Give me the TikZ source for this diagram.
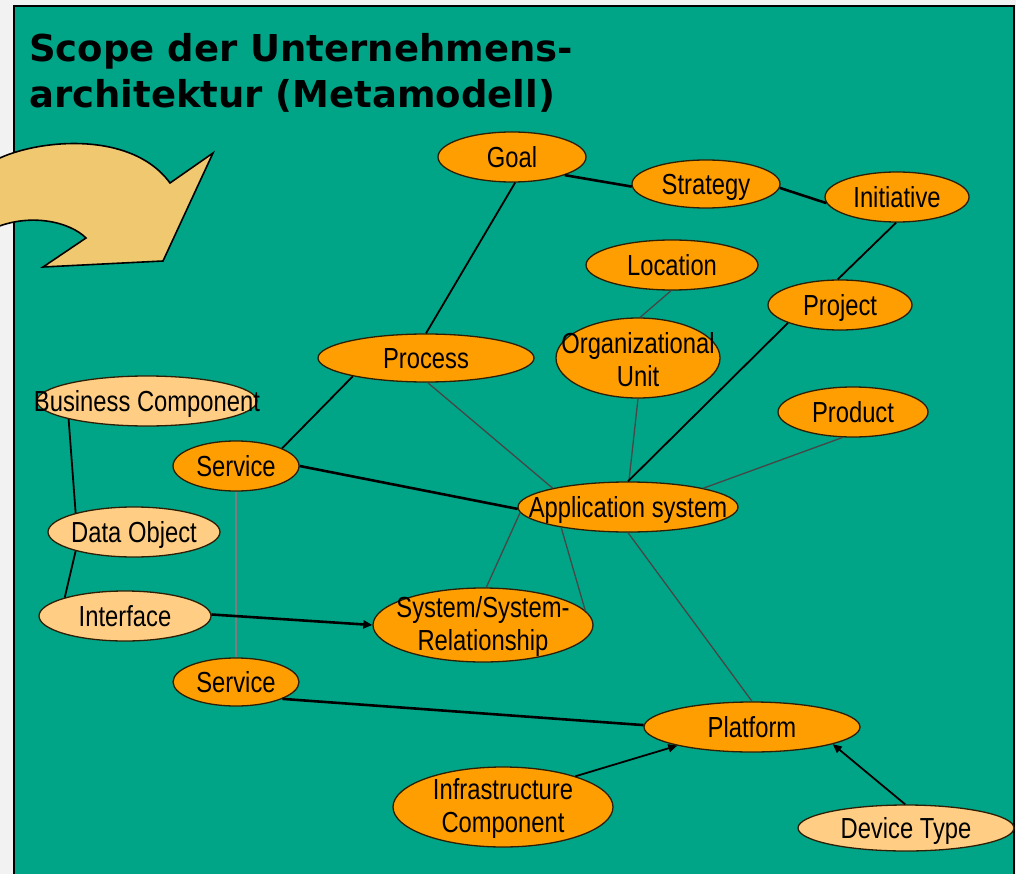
\documentclass[tikz,border=0pt]{standalone}
\usepackage{fontspec}
\usetikzlibrary{shapes.geometric,arrows.meta}
\newfontfamily\nodefont[FakeStretch=0.82]{Liberation Sans}
\newfontfamily\titlefont{DejaVu Sans}
\definecolor{paper}{RGB}{242,242,242}
\definecolor{board}{RGB}{0,165,136}
\definecolor{entity}{RGB}{255,158,0}
\definecolor{entitylight}{RGB}{255,206,132}
\definecolor{rim}{RGB}{45,30,5}
\definecolor{arrowfill}{RGB}{240,200,112}
\definecolor{weak}{RGB}{70,70,70}
\definecolor{faint}{RGB}{125,125,125}

% ellipse body: #1 name, #2 position, #3/#4 half axes, #5 fill, #6 text
\newcommand\entity[6]{%
  \node[entbox, fill=#5, minimum width=2*#3pt, minimum height=2*#4pt] (#1) at (#2) {};
  \node[enttext, text height=20.8pt, text depth=0pt] (#1-t) at (#1.center) {#6};
}
% same, for a label set on two lines
\newcommand\entitytwo[6]{%
  \node[entbox, fill=#5, minimum width=2*#3pt, minimum height=2*#4pt] (#1) at (#2) {};
  \node[enttext, yshift=-1.5pt] (#1-t) at (#1.center) {#6};
}

\begin{document}
\begin{tikzpicture}[x=1pt,y=-1pt,
  entbox/.style={ellipse, draw=rim, line width=1.3pt, inner sep=0pt},
  enttext/.style={font=\nodefont\fontsize{29}{33}\selectfont, align=center, inner sep=0pt},
  titletext/.style={font=\titlefont\bfseries\fontsize{37}{46}\selectfont, anchor=base west, inner sep=0pt},
  strong/.style={draw=black, line width=2.6pt},
  plain/.style={draw=black, line width=1.8pt},
  thin/.style={draw=weak, line width=1.3pt},
  pale/.style={draw=faint, line width=1.3pt},
  tip/.style={-{Triangle[length=9pt,width=8pt]}},
]
\useasboundingbox (0,0) rectangle (1016,874);

% page and board
\fill[paper] (0,0) rectangle (1016,874);
\draw[fill=board, line width=2.5pt] (14,6) rectangle (1014,884);

% title
\node[titletext] (title1) at (29,62) {Scope der Unternehmens-};
\node[titletext] (title2) at (29,108) {architektur (Metamodell)};

% curved block arrow entering from the left
\draw[fill=arrowfill, line width=1.6pt, line join=miter]
  (-8,162) .. controls (30,140) and (130,128) .. (170,183)
  -- (213,153) -- (163,261) -- (43,267) -- (86,238)
  .. controls (70,222) and (30,212) .. (-8,229) -- cycle;

% entities
\entity{goal}{512,157}{74}{25}{entity}{Goal}
\entity{strategy}{706,184}{74}{24}{entity}{Strategy}
\entity{initiative}{897,197}{72}{25}{entity}{Initiative}
\entity{location}{672,265}{86}{25}{entity}{Location}
\entity{project}{840,305}{72}{25}{entity}{Project}
\entity{process}{426,358}{108}{24}{entity}{Process}
\entitytwo{orgunit}{638,358}{82}{40}{entity}{Organizational\\Unit}
\entity{buscomp}{147,401}{110}{25}{entitylight}{Business Component}
\entity{product}{853,412}{75}{25}{entity}{Product}
\entity{serviceA}{236,466}{63}{25}{entity}{Service}
\entity{appsys}{628,507}{110}{25}{entity}{Application system}
\entity{dataobj}{134,532}{86}{25}{entitylight}{Data Object}
\entity{interface}{125,616}{86}{25}{entitylight}{Interface}
\entitytwo{sysrel}{483,625}{110}{37}{entity}{System/System-\\Relationship}
\entity{serviceB}{236,682}{63}{24}{entity}{Service}
\entity{platform}{752,727}{108}{25}{entity}{Platform}
\entitytwo{infra}{503,807}{110}{40}{entity}{Infrastructure\\Component}
\entity{device}{906,828}{108}{23}{entitylight}{Device Type}

% relations
\draw[strong] (goal.-19) -- (strategy.182);
\draw[strong] (strategy.-3) -- (initiative.185);
\draw[plain] (initiative.-92) -- (project.95);
\draw[plain] (goal.-83) -- (process.90);
\draw[thin] (location.-92) -- (orgunit.87);
\draw[plain] (process.-166) -- (serviceA.21);
\draw[strong] (serviceA.0) -- (appsys.181);
\draw[thin] (process.-86) -- (appsys.166);
\draw[thin] (orgunit.-90) -- (appsys.88);
\draw[plain] (project.-161) -- (appsys.90);
\draw[thin] (product.-112) -- (appsys.14);
\draw[thin] (appsys.183) -- (sysrel.85);
\draw[thin] (appsys.-163) -- (sysrel.8);
\draw[thin] (appsys.-90) -- (platform.90);
\draw[plain] (buscomp.-167) -- (dataobj.162);
\draw[plain] (dataobj.-162) -- (interface.163);
\draw[pale] (serviceA.-90) -- (serviceB.90);
\draw[strong, tip] (interface.1) -- (sysrel.180);
\draw[strong] (serviceB.-20) -- (platform.179);
\draw[plain, tip] (infra.23) -- (platform.-166);
\draw[plain, tip] (device.92) -- (platform.-12);
\end{tikzpicture}
\end{document}
